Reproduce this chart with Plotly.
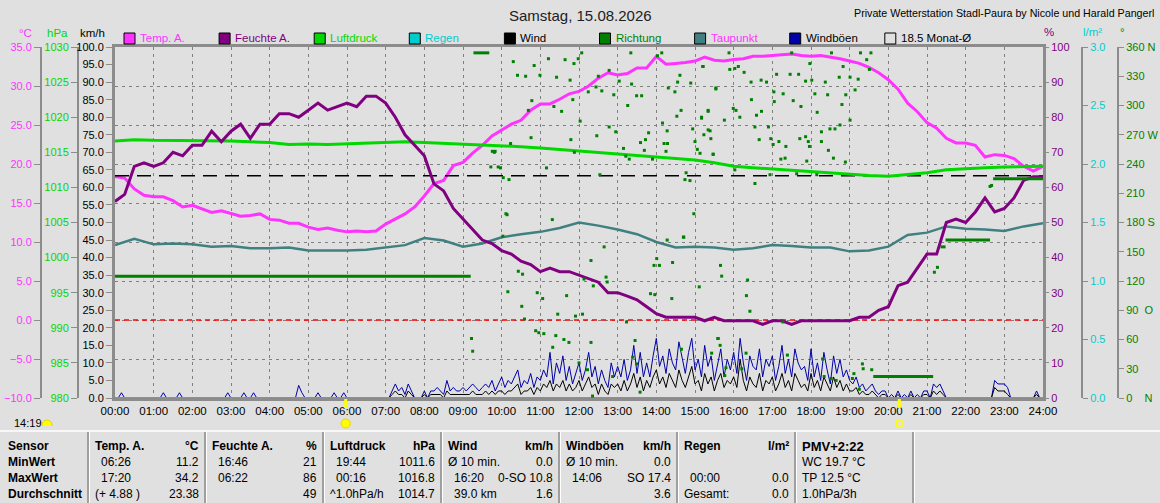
import plotly.graph_objects as go

# Tagesgrafik Wetterstation Stadl-Paura, Samstag 15.08.2026
# values

# temperature outside, degC, every 15 min (00:00 .. 24:00)
temp_a = [
    18.4, 18.2, 16.8, 16.0,
    15.8, 15.8, 15.3, 14.5,
    14.7, 14.3, 13.8, 14.0,
    13.6, 13.3, 13.4, 13.6,
    12.9, 12.8, 12.4, 12.4,
    11.9, 11.6, 11.8, 11.5,
    11.3, 11.4, 11.3, 11.4,
    12.3, 13.0, 13.6, 14.5,
    15.9, 17.5, 17.9, 19.8,
    20.2, 21.4, 22.4, 23.6,
    24.3, 25.1, 25.6, 26.9,
    27.7, 27.7, 28.3, 29.0,
    29.3, 30.0, 31.0, 31.7,
    31.4, 31.6, 32.3, 32.3,
    33.8, 32.8, 32.9, 33.0,
    33.2, 33.7, 33.3, 33.2,
    33.4, 33.5, 33.8, 33.8,
    33.9, 34.0, 34.1, 33.9,
    33.8, 33.9, 33.7, 33.5,
    33.2, 32.9, 32.4, 31.7,
    30.8, 29.6, 27.8, 26.7,
    25.3, 24.6, 23.3, 22.7,
    22.7, 22.4, 20.9, 21.2,
    21.1, 20.7, 19.7, 19.1,
    19.7,
]

# humidity outside, %, every 15 min
feuchte_a = [
    56, 58, 66, 67,
    66, 67, 70, 69,
    72, 72, 76, 73,
    76, 78, 74, 78,
    78, 81, 81, 80,
    82, 84, 82, 83,
    84, 83, 86, 86,
    84, 80, 75, 72,
    69, 61, 59, 54,
    51, 48, 45, 44,
    42, 41, 39, 38,
    36, 37, 36, 36,
    35, 34, 33, 30,
    30, 29, 28, 26,
    24, 23, 23, 23,
    23, 22, 23, 22,
    22, 22, 22, 21,
    22, 22, 21, 22,
    22, 22, 22, 22,
    22, 23, 23, 25,
    26, 32, 33, 37,
    41, 41, 50, 51,
    50, 53, 57, 53,
    54, 57, 62, 63,
    63,
]

# pressure, hPa, every 30 min
luftdruck = [
    1016.6, 1016.8, 1016.7, 1016.7, 1016.6, 1016.6, 1016.6, 1016.5,
    1016.4, 1016.1, 1016.2, 1016.1, 1016.2, 1016.3, 1016.3, 1016.5,
    1016.4, 1016.3, 1016.2, 1016.1, 1016.0, 1015.8, 1015.6, 1015.4,
    1015.2, 1015.0, 1014.8, 1014.6, 1014.3, 1014.2, 1013.9, 1013.5,
    1013.0, 1012.8, 1012.6, 1012.4, 1012.2, 1012.0, 1011.9, 1011.7,
    1011.6, 1011.8, 1012.1, 1012.5, 1012.7, 1012.8, 1012.9, 1013.0,
    1013.0,
]

# dew point, degC, every 30 min
taupunkt = [
    9.6, 10.4, 9.7, 9.8, 9.7, 9.4, 9.5, 9.2,
    9.2, 9.3, 8.9, 8.9, 8.9, 9.0, 9.3, 9.6,
    10.5, 10.2, 9.4, 9.8, 10.6, 11.0, 11.3, 11.8,
    12.5, 12.1, 11.6, 11.0, 10.0, 9.3, 9.4, 9.3,
    9.0, 9.2, 9.6, 9.5, 9.3, 9.3, 8.8, 8.9,
    9.4, 10.9, 11.2, 12.0, 11.7, 11.6, 11.4, 12.0,
    12.4,
]

# rain, l/m2, every 30 min
regen = [0.0] * 49

# gusts, km/h, every 5 min
windboeen = [
    0, 0, 1.5, 0, 0, 0, 0, 0, 0, 0, 0, 0,
    0, 0, 0, 1.5, 0, 0, 0, 0, 1.5, 0, 0, 0,
    0, 0, 0, 0, 0, 0, 0, 0, 0, 0, 0, 1.5,
    0, 0, 0, 0, 1.5, 0, 0, 1.5, 0, 0, 0, 0,
    0, 0, 0, 0, 0, 0, 0, 0, 0, 3.6, 1.5, 0,
    0, 0, 0, 1.5, 0, 0, 0, 0, 1.5, 0, 0, 1.5,
    0, 0, 0, 0, 0, 0, 0, 0, 0, 0, 0, 0,
    0, 0, 2, 4, 2, 3, 1, 4, 2, 0, 0, 0,
    2, 0, 2, 2, 3, 2, 1, 5, 2, 3, 2, 2,
    3, 2, 3, 4, 3, 2, 3, 4, 3, 5, 2, 4,
    6, 3, 5, 4, 6, 8, 3, 5, 4, 7, 3, 6,
    5, 8, 6, 13, 4, 10, 7, 12, 5, 9, 4, 7,
    10, 5, 8, 13, 6, 9, 4, 8, 5, 3, 10, 6,
    9, 6, 11, 5, 8, 15, 7, 13, 6, 10, 6, 12,
    17, 9, 12, 7, 14, 10, 8, 16, 11, 7, 13, 17,
    8, 11, 6, 15, 9, 12, 5, 10, 14, 6, 11, 8,
    13, 7, 17, 10, 5, 12, 9, 8, 14, 6, 11, 9,
    12, 5, 9, 15, 7, 11, 6, 14, 10, 8, 9, 5,
    14, 6, 10, 5, 13, 8, 4, 12, 7, 11, 6, 8,
    5, 4, 6, 3, 4, 2, 3, 4, 2, 1, 2, 2,
    0, 1, 0, 2, 0, 1, 0, 2, 0, 1, 0, 2,
    2, 0, 4, 3, 4, 2, 0, 0, 0, 0, 0, 0,
    0, 0, 0, 0, 0, 0, 0, 0, 0, 5, 4, 4,
    4, 3, 0, 0, 0, 0, 0, 0, 0, 0, 2, 0,
    0,
]

# mean wind, km/h, every 5 min
wind = [
    0, 0, 0, 0, 0, 0, 0, 0, 0, 0, 0, 0,
    0, 0, 0, 0, 0, 0, 0, 0, 0, 0, 0, 0,
    0, 0, 0, 0, 0, 0, 0, 0, 0, 0, 0, 0,
    0, 0, 0, 0, 0, 0, 0, 0, 0, 0, 0, 0,
    0, 0, 0, 0, 0, 0, 0, 0, 0, 0, 0, 0,
    0, 0, 0, 0, 0, 0, 0, 0, 0, 0, 0, 0,
    0, 0, 0, 0, 0, 0, 0, 0, 0, 0, 0, 0,
    0, 0, 1, 2, 1, 1, 0, 2, 1, 0, 0, 0,
    1, 0, 1, 1, 1, 1, 0, 2, 1, 1, 1, 1,
    1, 1, 1, 2, 1, 1, 1, 2, 1, 2, 1, 2,
    2, 1, 2, 2, 3, 4, 1, 2, 2, 3, 1, 3,
    2, 4, 3, 5, 2, 4, 3, 5, 2, 4, 2, 3,
    5, 2, 4, 6, 3, 4, 1, 4, 2, 1, 4, 3,
    4, 2, 5, 2, 4, 7, 3, 6, 2, 5, 3, 6,
    8, 4, 6, 3, 7, 5, 3, 8, 5, 3, 6, 9,
    4, 5, 2, 7, 4, 6, 2, 5, 7, 3, 5, 4,
    6, 3, 11, 5, 2, 6, 4, 3, 7, 2, 5, 4,
    6, 2, 4, 7, 3, 5, 2, 7, 5, 3, 4, 2,
    7, 3, 5, 2, 6, 4, 2, 6, 3, 5, 2, 4,
    2, 2, 3, 1, 2, 1, 1, 2, 1, 0, 1, 1,
    0, 0, 0, 1, 0, 0, 0, 1, 0, 0, 0, 1,
    1, 0, 2, 1, 2, 1, 0, 0, 0, 0, 0, 0,
    0, 0, 0, 0, 0, 0, 0, 0, 0, 3, 2, 2,
    2, 1, 0, 0, 0, 0, 0, 0, 0, 0, 1, 0,
    0,
]

# wind direction samples (hour of day, degrees)
richtung_h = [
    10.30, 10.84, 10.41, 10.62, 10.99, 11.21, 11.42, 11.64, 11.87, 11.98, 12.07, 11.77,
    10.78, 10.69, 11.35, 11.55, 11.84, 12.03, 12.24, 12.44, 12.50, 12.59, 12.78, 13.04,
    12.90, 13.26, 13.36, 13.49, 13.62, 13.34, 14.03, 14.14, 14.61, 14.55, 14.89, 14.48,
    14.31, 15.20, 15.54, 15.34, 14.64, 14.53, 15.17, 14.16, 14.28, 14.94, 15.39, 12.95,
    12.78, 12.46, 11.79, 10.76, 10.23, 9.81, 9.72, 9.91, 9.97, 10.04, 10.19, 11.16,
    11.88, 12.54, 13.15, 13.21, 13.30, 13.59, 13.69, 13.72, 13.80, 13.90, 14.29, 14.20,
    14.25, 15.00, 15.06, 15.13, 15.47, 14.74, 14.87, 14.77, 10.11, 10.14, 11.31, 14.97,
    14.71, 10.03, 9.22, 9.25, 10.43, 10.54, 10.16, 10.52, 10.59, 10.92, 11.06, 10.88,
    10.96, 11.09, 11.40, 11.45, 11.32, 11.61, 11.68, 11.74, 11.91, 12.09, 12.00, 12.13,
    12.22, 12.31, 12.31, 12.37, 12.35, 12.65, 12.70, 12.73, 12.87, 13.23, 13.45, 13.49,
    13.39, 13.58, 13.85, 13.96, 13.94, 14.01, 14.08, 14.42, 14.40, 14.70, 14.65, 15.11,
    15.43, 15.60, 14.28, 15.66, 15.69, 16.36, 16.33, 16.42, 15.59, 15.65, 15.80, 15.77,
    16.21, 16.32, 17.39, 17.27, 18.30, 18.34, 18.52, 18.65, 19.11, 19.07, 19.33, 19.35,
    19.57, 19.25, 21.19, 21.27, 15.88, 15.21, 15.90, 16.03, 16.12, 16.27, 15.54, 16.45,
    16.71, 16.85, 17.04, 17.11, 17.50, 17.46, 17.68, 17.86, 18.02, 17.97, 18.10, 18.37,
    18.53, 18.43, 18.73, 19.01, 19.22, 18.83, 19.28, 19.55, 19.44, 19.51, 19.14, 18.90,
    15.34, 15.99, 16.06, 16.46, 16.72, 16.59, 16.16, 15.17, 15.76, 17.28, 17.05, 17.54,
    17.74, 18.16, 18.27, 18.49, 18.62, 18.75, 19.01, 18.80, 15.34, 15.23, 15.41, 16.55,
    16.66, 16.90, 16.96, 17.17, 17.02, 17.35, 17.86, 17.71, 17.93, 17.96, 18.27, 18.45,
    18.58, 18.89, 17.89, 17.63, 18.15, 16.55, 15.47, 17.22, 16.03, 16.94, 17.33, 22.67,
    22.63,
]
richtung_deg = [
    345, 341, 331, 330, 331, 348, 329, 347, 343, 348, 354, 326,
    305, 295, 299, 294, 306, 284, 314, 319, 330, 315, 336, 325,
    311, 300, 322, 310, 310, 354, 351, 354, 331, 324, 323, 314,
    318, 340, 318, 294, 295, 289, 287, 282, 274, 276, 274, 273,
    278, 269, 265, 267, 261, 252, 237, 237, 236, 226, 224, 236,
    252, 229, 256, 248, 245, 262, 254, 265, 272, 245, 261, 261,
    253, 263, 255, 251, 250, 224, 223, 231, 189, 188, 183, 189,
    165, 166, 61, 48, 130, 127, 109, 94, 81, 108, 102, 69,
    67, 66, 64, 86, 52, 60, 105, 57, 84, 86, 36, 122,
    29, 57, 141, 115, 2, 155, 124, 119, 22, 78, 59, 35,
    42, 6, 107, 106, 136, 143, 136, 139, 102, 165, 50, 114,
    46, 61, 162, 136, 125, 121, 105, 89, 61, 54, 31, 23,
    30, 46, 44, 78, 40, 22, 20, 18, 25, 20, 35, 30,
    29, 9, 129, 134, 354, 340, 337, 338, 340, 334, 317, 324,
    326, 324, 314, 332, 354, 332, 332, 325, 326, 343, 312, 324,
    354, 311, 329, 329, 327, 340, 354, 354, 347, 337, 316, 311,
    295, 297, 295, 306, 294, 290, 288, 288, 285, 312, 304, 305,
    299, 293, 273, 276, 276, 280, 285, 301, 275, 270, 266, 278,
    265, 278, 266, 263, 260, 258, 268, 266, 263, 258, 263, 254,
    246, 242, 243, 230, 229, 220, 250, 245, 234, 229, 246, 218,
    217,
]

# direction held while calm (start hour, end hour, degrees)
ruhe_von = [0.0, 9.27, 9.72, 19.61, 21.35, 21.48, 22.71]
ruhe_bis = [9.20, 9.68, 9.87, 21.16, 21.48, 22.63, 24.0]
ruhe_deg = [125, 354, 253, 22, 155, 162, 225]

monat_mittel = 18.5
sonnenaufgang = 5 + 58 / 60
sonnenuntergang = 20 + 17 / 60

stunden_lbl = ["%02d:00" % h for h in range(25)]
richtung_vals = [0, 30, 60, 90, 120, 150, 180, 210, 240, 270, 300, 330, 360]
richtung_lbl = ["0\u00a0\u00a0\u00a0\u00a0N", "30", "60", "90\u00a0\u00a0O", "120", "150",
                "180\u00a0S", "210", "240", "270\u00a0W", "300", "330", "360\u00a0N"]

# table below the chart
tab_kopf = ["Temp. A.", "Feuchte A.", "Luftdruck", "Wind", "Windböen", "Regen", "PMV+2:22"]
tab_einheit = ["°C", "%", "hPa", "km/h", "km/h", "l/m²", ""]
tab_min_l = ["06:26", "16:46", "19:44", "Ø 10 min.", "Ø 10 min.", "", "WC 19.7 °C"]
tab_min_r = ["11.2", "21", "1011.6", "0.0", "0.0", "", ""]
tab_max_l = ["17:20", "06:22", "00:16", "16:20", "14:06", "00:00", "TP 12.5 °C"]
tab_max_r = ["34.2", "86", "1016.8", "0-SO 10.8", "SO 17.4", "0.0", ""]
tab_avg_l = ["(+ 4.88 )", "", "^1.0hPa/h", "39.0 km", "", "Gesamt:", "1.0hPa/3h"]
tab_avg_r = ["23.38", "49", "1014.7", "1.6", "3.6", "0.0", ""]

# ---- drawing ----
W, H = 1160, 503
FONT = "Liberation Sans"
BG = "#e0e0e0"
GRID = "#808080"
BORDER = "#8c8c8c"
MAGENTA = "#ff33ff"
PURPLE = "#800080"
GREEN = "#00d800"
CYAN = "#00cccc"
DKGREEN = "#008000"
TEAL = "#408080"
NAVY = "#0000a8"


def fx(x):
    return x / W


def fy(y):
    return 1 - y / H


t5 = [i / 12 for i in range(len(wind))]
t15 = [i / 4 for i in range(len(temp_a))]
t30 = [i / 2 for i in range(len(luftdruck))]

ruhe_x, ruhe_y = [], []
for a, b, d in zip(ruhe_von, ruhe_bis, ruhe_deg):
    ruhe_x += [a, b, None]
    ruhe_y += [d, d, None]

fig = go.Figure()
fig.add_trace(go.Scatter(x=t5, y=windboeen, mode="lines", line=dict(color=NAVY, width=1), yaxis="y"))
fig.add_trace(go.Scatter(x=t5, y=wind, mode="lines", line=dict(color="black", width=1), yaxis="y"))
fig.add_trace(go.Scatter(x=t30, y=regen, mode="lines", line=dict(color=CYAN, width=2), yaxis="y6"))
fig.add_trace(go.Scatter(x=richtung_h, y=richtung_deg, mode="markers",
                         marker=dict(symbol="square", size=3, color=DKGREEN), yaxis="y7"))
fig.add_trace(go.Scatter(x=ruhe_x, y=ruhe_y, mode="lines", line=dict(color=DKGREEN, width=3), yaxis="y7"))
fig.add_trace(go.Scatter(x=[0, 24], y=[0, 0], mode="lines",
                         line=dict(color="#ff0000", width=1.5, dash="5px,4px"), yaxis="y3"))
fig.add_trace(go.Scatter(x=t30, y=taupunkt, mode="lines", line=dict(color=TEAL, width=2.5), yaxis="y2"))
fig.add_trace(go.Scatter(x=t30, y=luftdruck, mode="lines", line=dict(color=GREEN, width=3), yaxis="y4"))
fig.add_trace(go.Scatter(x=[0, 24], y=[monat_mittel, monat_mittel], mode="lines",
                         line=dict(color="black", width=1.5, dash="14px,8px"), yaxis="y3"))
fig.add_trace(go.Scatter(x=t15, y=feuchte_a, mode="lines", line=dict(color=PURPLE, width=3), yaxis="y5"))
fig.add_trace(go.Scatter(x=t15, y=temp_a, mode="lines", line=dict(color=MAGENTA, width=3), yaxis="y2"))

tick_font = dict(family=FONT, size=11)
dom = [fy(398), fy(47)]
free_axis = dict(overlaying="y", anchor="free", showgrid=False, zeroline=False, showline=True,
                 linecolor=BORDER, linewidth=2, ticks="outside", ticklen=6, tickcolor=BORDER,
                 automargin=False)

fig.update_layout(
    width=W, height=H,
    margin=dict(l=0, r=0, t=0, b=0, autoexpand=False),
    paper_bgcolor=BG, plot_bgcolor=BG,
    showlegend=False,
    xaxis=dict(domain=[fx(115), fx(1043)], range=[0, 24], tickvals=list(range(25)), ticktext=stunden_lbl,
               showgrid=True, griddash="3px,4px", gridcolor=GRID, gridwidth=1, zeroline=False,
               showline=True, mirror=True, linecolor=BORDER, linewidth=3, ticks="", layer="below traces",
               tickfont=dict(family=FONT, size=11.5, color="black"), anchor="y", automargin=False),
    yaxis=dict(domain=dom, range=[0, 100], dtick=5, tickformat=".1f", showgrid=False, zeroline=False,
               showline=True, mirror=True, linecolor=BORDER, linewidth=3, ticks="outside", ticklen=6,
               tickcolor=BORDER, tickfont=dict(tick_font, color="black"), automargin=False),
    yaxis2=dict(free_axis, range=[-10, 35], dtick=5, tickformat=".1f", position=fx(41), side="left",
                tickfont=dict(tick_font, color=MAGENTA)),
    yaxis3=dict(overlaying="y", anchor="x", range=[-10, 35], dtick=5, showticklabels=False, ticks="",
                showgrid=True, griddash="3px,4px", gridcolor=GRID, gridwidth=1, zeroline=False,
                showline=False, automargin=False),
    yaxis4=dict(free_axis, range=[980, 1030], dtick=5, position=fx(78), side="left",
                tickfont=dict(tick_font, color=GREEN)),
    yaxis5=dict(overlaying="y", anchor="x", side="right", range=[0, 100], dtick=10, showgrid=False,
                zeroline=False, showline=False, ticks="outside", ticklen=5, tickcolor=BORDER,
                tickfont=dict(tick_font, color=PURPLE), automargin=False),
    yaxis6=dict(free_axis, range=[0, 3], dtick=0.5, tickformat=".1f", position=fx(1082), side="right",
                ticklen=5, tickfont=dict(tick_font, color=CYAN)),
    yaxis7=dict(free_axis, range=[0, 360], tickvals=richtung_vals, ticktext=richtung_lbl,
                position=fx(1118), side="right", ticklen=5, tickfont=dict(tick_font, color=DKGREEN)),
)

ann = []
shapes = []


def txt(x, y, s, color="black", size=12, anchor="left", bold=False):
    ann.append(dict(x=fx(x), y=fy(y), xref="paper", yref="paper", showarrow=False,
                    text="<b>%s</b>" % s if bold else s, xanchor=anchor, yanchor="middle",
                    font=dict(family=FONT, size=size, color=color)))


# titles
txt(580, 15, "Samstag, 15.08.2026", color="#202020", size=15, anchor="center")
txt(1156, 13, "Private Wetterstation Stadl-Paura by Nicole und Harald Pangerl", size=10.7, anchor="right")

# axis headers
txt(25, 33, "°C", MAGENTA, size=11.5, anchor="center")
txt(57, 33, "hPa", GREEN, size=11.5, anchor="center")
txt(92, 33, "km/h", size=11.5, anchor="center")
txt(1049, 32, "%", PURPLE, size=11.5, anchor="center")
txt(1092, 32, "l/m²", CYAN, size=11.5, anchor="center")
txt(1122, 32, "°", DKGREEN, size=11.5, anchor="center")

# legend
legend = [("Temp. A.", MAGENTA, MAGENTA), ("Feuchte A.", PURPLE, PURPLE), ("Luftdruck", GREEN, GREEN),
          ("Regen", CYAN, CYAN), ("Wind", "black", "black"), ("Richtung", DKGREEN, DKGREEN),
          ("Taupunkt", TEAL, MAGENTA), ("Windböen", NAVY, "black"), ("%.1f Monat-Ø" % monat_mittel, BG, "black")]
for i, (name, box, tc) in enumerate(legend):
    x0 = 124 + i * 95.1
    shapes.append(dict(type="rect", xref="paper", yref="paper", x0=fx(x0), x1=fx(x0 + 11),
                       y0=fy(44), y1=fy(33), fillcolor=box, line=dict(color="black", width=1)))
    txt(x0 + 14, 38, name, tc, size=11.5)

# sunrise / sunset markers
for t in (sonnenaufgang, sonnenuntergang):
    shapes.append(dict(type="line", xref="x", yref="paper", x0=t, x1=t, y0=fy(399), y1=fy(408),
                       line=dict(color="#ffff00", width=3)))
shapes.append(dict(type="circle", xref="x", yref="paper", x0=sonnenaufgang - 0.12, x1=sonnenaufgang + 0.12,
                   y0=fy(428), y1=fy(419), fillcolor="#ffff00", line=dict(color="#f0d000", width=1)))
shapes.append(dict(type="rect", xref="x", yref="paper", x0=sonnenuntergang - 0.07, x1=sonnenuntergang + 0.07,
                   y0=fy(426), y1=fy(421), fillcolor="rgba(0,0,0,0)", line=dict(color="#ffff00", width=1.5)))
shapes.append(dict(type="circle", xref="paper", yref="paper", x0=fx(42), x1=fx(52), y0=fy(430), y1=fy(420),
                   fillcolor="#ffff00", line=dict(color="#f0d000", width=1)))
shapes.append(dict(type="rect", xref="paper", yref="paper", x0=fx(40), x1=fx(54), y0=fy(431), y1=fy(426),
                   fillcolor=BG, line=dict(width=0)))
txt(12, 423, "14:19", size=11)

# table
shapes.append(dict(type="line", xref="paper", yref="paper", x0=0, x1=1, y0=fy(431), y1=fy(431),
                   line=dict(color="white", width=1.5)))
seps = [88, 205, 323, 441, 559, 677, 795, 913]
for s in seps:
    shapes.append(dict(type="line", xref="paper", yref="paper", x0=fx(s), x1=fx(s), y0=fy(432), y1=0,
                       line=dict(color="#8a8a8a", width=1.5)))
    shapes.append(dict(type="line", xref="paper", yref="paper", x0=fx(s + 1.5), x1=fx(s + 1.5), y0=fy(432), y1=0,
                       line=dict(color="white", width=1)))

rows_y = [446, 462, 478, 494]
for lbl, y in zip(["Sensor", "MinWert", "MaxWert", "Durchschnitt"], rows_y):
    txt(6, y, lbl, bold=True)
for i in range(len(tab_kopf)):
    left = seps[i] + 5
    right = seps[i + 1] - 4
    txt(left, rows_y[0], tab_kopf[i], bold=True, size=13 if i == 6 else 12)
    if tab_einheit[i]:
        txt(right, rows_y[0], tab_einheit[i], bold=True, anchor="right")
    for y, l, r in zip(rows_y[1:], [tab_min_l[i], tab_max_l[i], tab_avg_l[i]],
                       [tab_min_r[i], tab_max_r[i], tab_avg_r[i]]):
        if l:
            ind = 0 if (l.startswith("Ø") or l.startswith("(") or l.startswith("^")
                        or l.startswith("G") or i == 6) else 6
            txt(left + ind, y, l)
        if r:
            txt(right, y, r, anchor="right")

fig.update_layout(annotations=ann, shapes=shapes)

fig.write_html("out.html", config={"displayModeBar": False},
               post_script="document.body.style.margin='0';document.body.style.overflow='hidden';")
